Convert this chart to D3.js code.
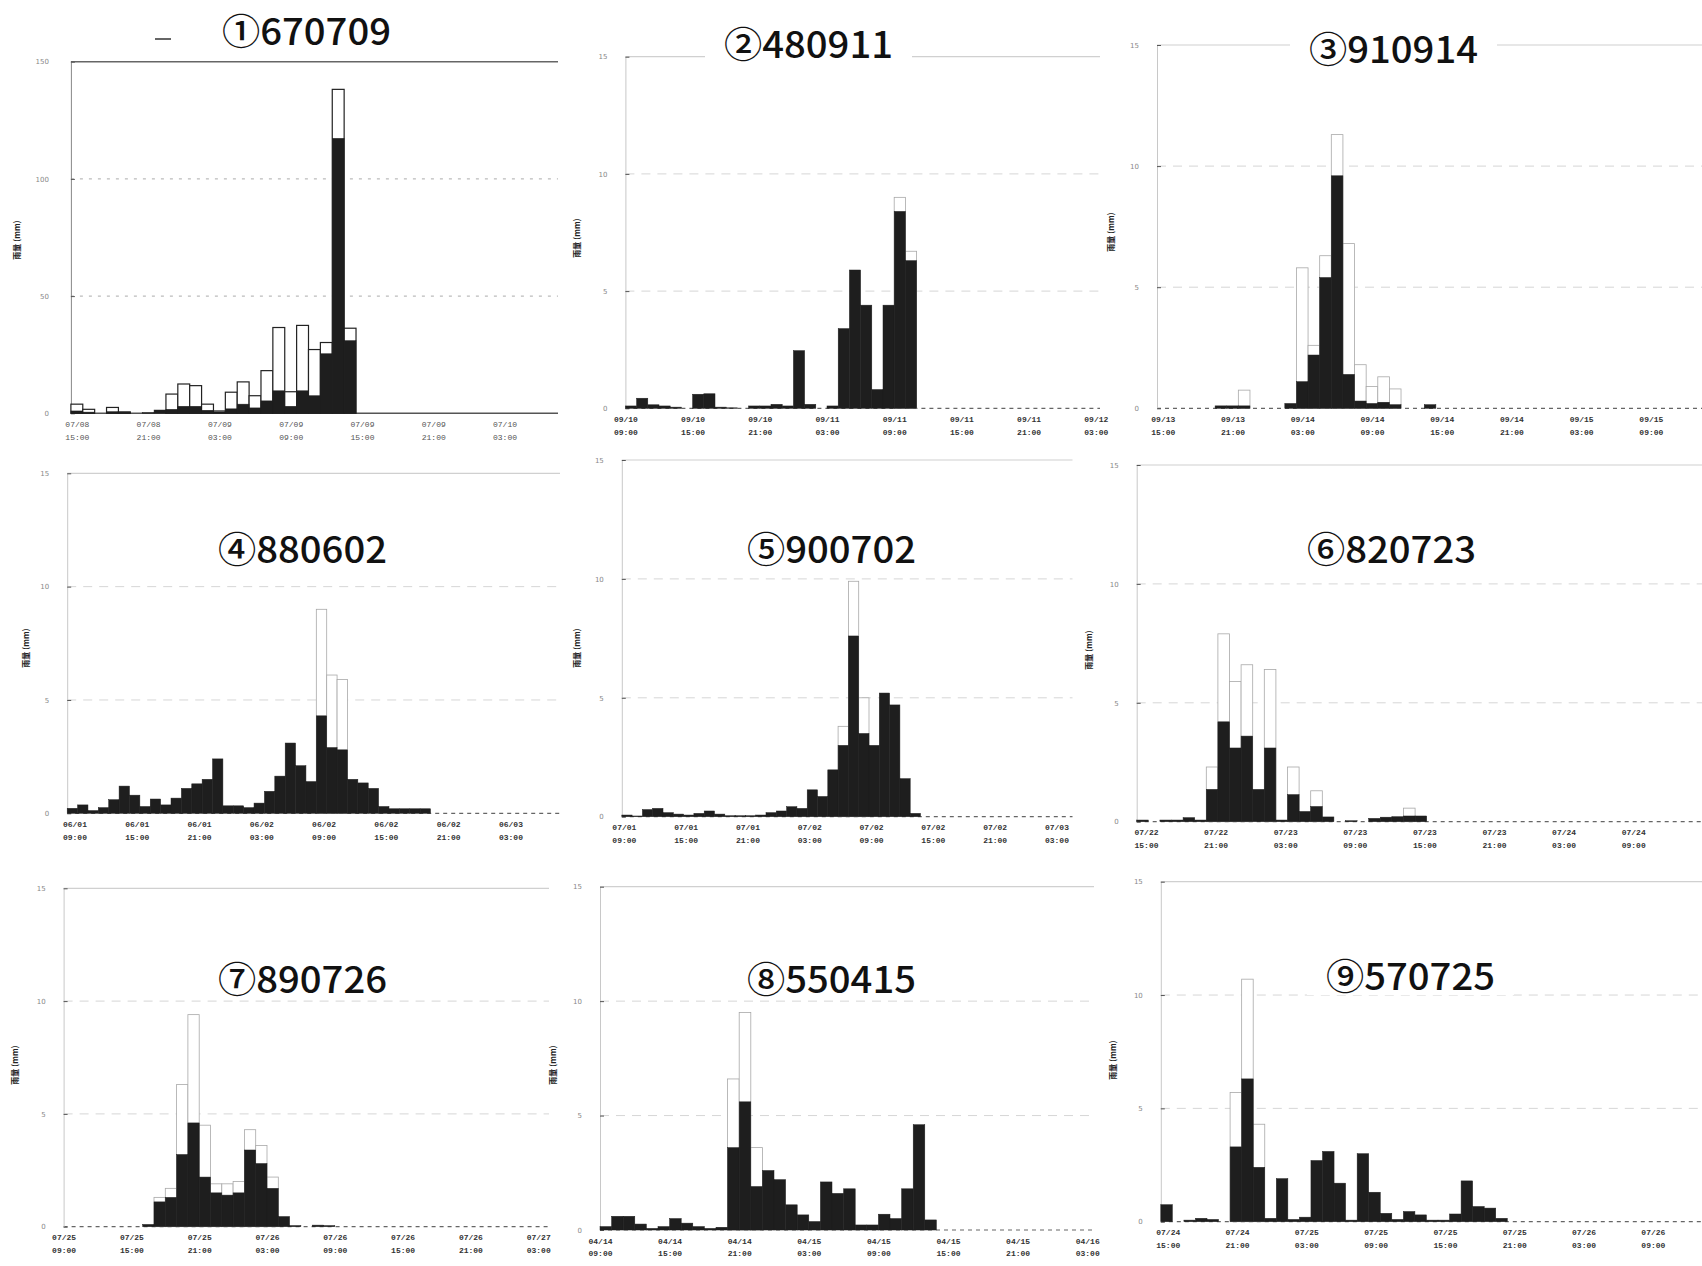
<!DOCTYPE html>
<html>
<head>
<meta charset="utf-8">
<script src="https://cdn.jsdelivr.net/npm/d3@7"></script>
<style>
  body { margin: 0; background: #fff; }
  svg { display: block; }
</style>
</head>
<body>
<svg id="chart" width="1702" height="1266"></svg>
<script>

// ---- data (hourly rainfall, black = lower part, total = top of white box) ----
const titles = ["①670709", "②480911", "③910914", "④880602", "⑤900702", "⑥820723", "⑦890726", "⑧550415", "⑨570725"];
const yTicksBig = [0, 50, 100, 150];
const yTicksSmall = [0, 5, 10, 15];

const p1Black = [1, 0.5, 0, 0.7, 0.5, 0, 0.3, 1.4, 1.7, 3, 3, 1.3, 0.6, 1.9, 3.9, 2.3, 5.3, 9.6, 3, 9.6, 7.5, 25.4, 117.3, 31];
const p1Total = [3.9, 1.7, 0, 2.5, 0.6, 0, 0.3, 1.4, 8.2, 12.5, 11.8, 3.9, 1, 9, 13.4, 7.5, 18.2, 36.6, 9.2, 37.5, 27.2, 30.2, 138.2, 36.3];

const p2Black = [0.1, 0.43, 0.15, 0.1, 0.05, 0, 0.6, 0.62, 0.05, 0.02, 0, 0.1, 0.1, 0.17, 0.1, 2.46, 0.17, 0, 0.1, 3.4, 5.9, 4.4, 0.8, 4.4, 8.4, 6.3];
const p2Total = [0.1, 0.43, 0.15, 0.1, 0.05, 0, 0.6, 0.62, 0.05, 0.02, 0, 0.1, 0.1, 0.17, 0.1, 2.46, 0.17, 0, 0.1, 3.4, 5.9, 4.4, 0.8, 4.4, 9.0, 6.7];

const p3Black = [0, 0, 0, 0, 0, 0.1, 0.1, 0.1, 0, 0, 0, 0.2, 1.1, 2.2, 5.4, 9.6, 1.4, 0.3, 0.2, 0.25, 0.15, 0, 0, 0.15];
const p3Total = [0, 0, 0, 0, 0, 0.1, 0.1, 0.75, 0, 0, 0, 0.2, 5.8, 2.6, 6.3, 11.3, 6.8, 1.8, 0.9, 1.3, 0.8, 0, 0, 0.15];

const p4Black = [0.22, 0.37, 0.12, 0.25, 0.6, 1.2, 0.8, 0.3, 0.63, 0.37, 0.67, 1.1, 1.3, 1.5, 2.4, 0.33, 0.33, 0.25, 0.45, 0.97, 1.64, 3.1, 2.1, 1.4, 4.3, 2.9, 2.8, 1.5, 1.34, 1.1, 0.3, 0.2, 0.2, 0.2, 0.2];
const p4Total = [0.22, 0.37, 0.12, 0.25, 0.6, 1.2, 0.8, 0.3, 0.63, 0.37, 0.67, 1.1, 1.3, 1.5, 2.4, 0.33, 0.33, 0.25, 0.45, 0.97, 1.64, 3.1, 2.1, 1.4, 9.0, 6.1, 5.9, 1.5, 1.34, 1.1, 0.3, 0.2, 0.2, 0.2, 0.2];

const p5Black = [0.07, 0.03, 0.3, 0.35, 0.17, 0.11, 0.07, 0.14, 0.24, 0.11, 0.04, 0.04, 0.04, 0.07, 0.17, 0.24, 0.42, 0.35, 1.13, 0.85, 1.97, 3.0, 7.6, 3.5, 3.0, 5.2, 4.7, 1.6, 0.14];
const p5Total = [0.07, 0.03, 0.3, 0.35, 0.17, 0.11, 0.07, 0.14, 0.24, 0.11, 0.04, 0.04, 0.04, 0.07, 0.17, 0.24, 0.42, 0.35, 1.13, 0.85, 1.97, 3.8, 9.9, 5.0, 3.0, 5.2, 4.7, 1.6, 0.14];

const p6Black = [0.07, 0, 0.07, 0.07, 0.17, 0.07, 1.36, 4.2, 3.1, 3.6, 1.36, 3.1, 0.07, 1.14, 0.43, 0.64, 0.2, 0, 0.04, 0, 0.14, 0.19, 0.21, 0.24, 0.24];
const p6Total = [0.07, 0, 0.07, 0.07, 0.17, 0.07, 2.3, 7.9, 5.9, 6.6, 1.36, 6.4, 0.07, 2.3, 0.43, 1.3, 0.2, 0, 0.04, 0, 0.14, 0.19, 0.21, 0.57, 0.24];

const p7Black = [0, 0, 0, 0, 0, 0, 0, 0.1, 1.1, 1.3, 3.2, 4.6, 2.2, 1.5, 1.4, 1.5, 3.4, 2.8, 1.7, 0.45, 0.05, 0, 0.07, 0.05];
const p7Total = [0, 0, 0, 0, 0, 0, 0, 0.1, 1.3, 1.7, 6.3, 9.4, 4.5, 1.9, 1.9, 2.0, 4.3, 3.6, 2.2, 0.45, 0.05, 0, 0.07, 0.05];

const p8Black = [0.15, 0.6, 0.6, 0.26, 0.07, 0.15, 0.5, 0.3, 0.15, 0.07, 0.12, 3.6, 5.6, 1.9, 2.6, 2.2, 1.1, 0.66, 0.37, 2.1, 1.6, 1.8, 0.22, 0.22, 0.69, 0.5, 1.8, 4.6, 0.44];
const p8Total = [0.15, 0.6, 0.6, 0.26, 0.07, 0.15, 0.5, 0.3, 0.15, 0.07, 0.12, 6.6, 9.5, 3.6, 2.6, 2.2, 1.1, 0.66, 0.37, 2.1, 1.6, 1.8, 0.22, 0.22, 0.69, 0.5, 1.8, 4.6, 0.44];

const p9Black = [0.75, 0, 0.07, 0.15, 0.1, 0, 3.3, 6.3, 2.4, 0.15, 1.9, 0.1, 0.2, 2.7, 3.1, 1.7, 0.07, 3.0, 1.3, 0.37, 0.1, 0.45, 0.3, 0.07, 0.07, 0.34, 1.8, 0.67, 0.6, 0.15];
const p9Total = [0.75, 0, 0.07, 0.15, 0.1, 0, 5.7, 10.7, 4.3, 0.15, 1.9, 0.1, 0.2, 2.7, 3.1, 1.7, 0.07, 3.0, 1.3, 0.37, 0.1, 0.45, 0.3, 0.07, 0.07, 0.34, 1.8, 0.67, 0.6, 0.15];

// x tick labels (date / time)
const p1Times = [["07/08", "15:00"], ["07/08", "21:00"], ["07/09", "03:00"], ["07/09", "09:00"], ["07/09", "15:00"], ["07/09", "21:00"], ["07/10", "03:00"]];
const p2Times = [["09/10", "09:00"], ["09/10", "15:00"], ["09/10", "21:00"], ["09/11", "03:00"], ["09/11", "09:00"], ["09/11", "15:00"], ["09/11", "21:00"], ["09/12", "03:00"]];
const p3Times = [["09/13", "15:00"], ["09/13", "21:00"], ["09/14", "03:00"], ["09/14", "09:00"], ["09/14", "15:00"], ["09/14", "21:00"], ["09/15", "03:00"], ["09/15", "09:00"]];
const p4Times = [["06/01", "09:00"], ["06/01", "15:00"], ["06/01", "21:00"], ["06/02", "03:00"], ["06/02", "09:00"], ["06/02", "15:00"], ["06/02", "21:00"], ["06/03", "03:00"]];
const p5Times = [["07/01", "09:00"], ["07/01", "15:00"], ["07/01", "21:00"], ["07/02", "03:00"], ["07/02", "09:00"], ["07/02", "15:00"], ["07/02", "21:00"], ["07/03", "03:00"]];
const p6Times = [["07/22", "15:00"], ["07/22", "21:00"], ["07/23", "03:00"], ["07/23", "09:00"], ["07/23", "15:00"], ["07/23", "21:00"], ["07/24", "03:00"], ["07/24", "09:00"]];
const p7Times = [["07/25", "09:00"], ["07/25", "15:00"], ["07/25", "21:00"], ["07/26", "03:00"], ["07/26", "09:00"], ["07/26", "15:00"], ["07/26", "21:00"], ["07/27", "03:00"]];
const p8Times = [["04/14", "09:00"], ["04/14", "15:00"], ["04/14", "21:00"], ["04/15", "03:00"], ["04/15", "09:00"], ["04/15", "15:00"], ["04/15", "21:00"], ["04/16", "03:00"]];
const p9Times = [["07/24", "15:00"], ["07/24", "21:00"], ["07/25", "03:00"], ["07/25", "09:00"], ["07/25", "15:00"], ["07/25", "21:00"], ["07/26", "03:00"], ["07/26", "09:00"]];

// ---- layout of the nine small panels (pixel positions) ----
const layout = [
  { x0: 70.9, x1: 558, yTop: 61.7, yBase: 413.3, binW: 11.88, tickStart: 0.5, tx: 222, ty: 45, lx: 20, ly: 240 },
  { x0: 625.4, x1: 1100, yTop: 56.7, yBase: 408.3, binW: 11.2, tickStart: 0, tx: 724, ty: 58, lx: 580, ly: 238 },
  { x0: 1157, x1: 1702, yTop: 45, yBase: 408.3, binW: 11.62, tickStart: 0.5, tx: 1309, ty: 63, lx: 1114, ly: 232 },
  { x0: 67.2, x1: 560, yTop: 473.3, yBase: 813.3, binW: 10.38, tickStart: 0.7, tx: 218, ty: 563, lx: 29, ly: 648 },
  { x0: 621.8, x1: 1072.5, yTop: 460, yBase: 816.7, binW: 10.3, tickStart: 0.2, tx: 747, ty: 563, lx: 580, ly: 648 },
  { x0: 1136.7, x1: 1702, yTop: 465, yBase: 821.7, binW: 11.6, tickStart: 0.8, tx: 1307, ty: 563, lx: 1092, ly: 650 },
  { x0: 63.6, x1: 549, yTop: 888.3, yBase: 1226.7, binW: 11.3, tickStart: 0, tx: 218, ty: 993, lx: 18, ly: 1065 },
  { x0: 600, x1: 1094, yTop: 886.7, yBase: 1230, binW: 11.6, tickStart: 0, tx: 747, ty: 993, lx: 556, ly: 1065 },
  { x0: 1160.8, x1: 1702, yTop: 881.7, yBase: 1221.7, binW: 11.55, tickStart: 0.6, tx: 1326, ty: 990, lx: 1116, ly: 1060 }
];

const blacks = [p1Black, p2Black, p3Black, p4Black, p5Black, p6Black, p7Black, p8Black, p9Black];
const totals = [p1Total, p2Total, p3Total, p4Total, p5Total, p6Total, p7Total, p8Total, p9Total];
const times = [p1Times, p2Times, p3Times, p4Times, p5Times, p6Times, p7Times, p8Times, p9Times];

const svg = d3.select('#chart');
svg.append('rect').attr('width', 1702).attr('height', 1266).attr('fill', '#fff');

layout.forEach(function(p, i) {
    drawPanel(p, i);
});

function drawPanel(p, i) {
    const first = i === 0;
    const yTicks = first ? yTicksBig : yTicksSmall;
    const black = blacks[i], total = totals[i], labels = times[i];
    const g = svg.append('g').attr('class', 'panel');

    const nBins = (p.x1 - p.x0) / p.binW;
    const x = d3.scaleLinear().domain([0, nBins]).range([p.x0, p.x1]);
    const yMax = d3.max(yTicks);
    const y = d3.scaleLinear().domain([0, yMax]).range([p.yBase, p.yTop]);
    const bw = x(1) - x(0);

    // dotted grid lines
    g.selectAll('.grid')
        .data(yTicks.filter(t => t > 0 && t < yMax))
        .join('line')
        .attr('class', 'grid')
        .attr('x1', p.x0).attr('x2', p.x1)
        .attr('y1', d => y(d)).attr('y2', d => y(d))
        .attr('stroke', first ? '#aaa' : '#d6d6d6')
        .attr('stroke-width', 1)
        .attr('stroke-dasharray', first ? '3,6' : '9,7');

    // top frame line
    g.append('line')
        .attr('x1', p.x0).attr('x2', p.x1)
        .attr('y1', y(yMax)).attr('y2', y(yMax))
        .attr('stroke', first ? '#666' : '#d0d0d0')
        .attr('stroke-width', first ? 1.6 : 1.2);

    // baseline
    g.append('line')
        .attr('x1', p.x0).attr('x2', p.x1)
        .attr('y1', y(0)).attr('y2', y(0))
        .attr('stroke', first ? '#555' : '#666')
        .attr('stroke-width', first ? 1.5 : 1.2)
        .attr('stroke-dasharray', first ? null : '4,4');

    // y axis
    const yAxis = d3.axisLeft(y)
        .tickValues(yTicks)
        .tickSizeInner(-4)
        .tickSizeOuter(0)
        .tickPadding(first ? 22 : 18);
    const gy = g.append('g')
        .attr('transform', `translate(${p.x0},0)`)
        .call(yAxis);
    gy.select('.domain').attr('stroke', first ? '#888' : '#c8c8c8');
    gy.selectAll('.tick line').attr('stroke', '#555');
    gy.selectAll('.tick text')
        .attr('font-family', 'DejaVu Sans')
        .attr('font-size', 7)
        .attr('fill', '#888');

    // bars: white box (total) behind, black part in front
    const rows = black.map((b, j) => ({ j: j, b: b, t: total[j] }));
    g.selectAll('.upper')
        .data(rows.filter(d => d.t > d.b))
        .join('rect')
        .attr('class', 'upper')
        .attr('x', d => x(d.j))
        .attr('width', bw)
        .attr('y', d => y(d.t))
        .attr('height', d => y(0) - y(d.t))
        .attr('fill', '#fff')
        .attr('stroke', first ? '#222' : '#a8a8a8')
        .attr('stroke-width', first ? 1.2 : 0.8);

    g.selectAll('.lower')
        .data(rows.filter(d => d.b > 0))
        .join('rect')
        .attr('class', 'lower')
        .attr('x', d => x(d.j))
        .attr('width', bw)
        .attr('y', d => y(d.b))
        .attr('height', d => y(0) - y(d.b))
        .attr('fill', '#1e1e1e')
        .attr('stroke', '#1e1e1e')
        .attr('stroke-width', 0.5);

    // x axis with two-line date / time labels
    const xAxis = d3.axisBottom(x)
        .tickValues(labels.map((d, k) => p.tickStart + k * 6))
        .tickSize(0)
        .tickPadding(8)
        .tickFormat('');
    const gx = g.append('g')
        .attr('transform', `translate(0,${p.yBase})`)
        .call(xAxis);
    gx.select('.domain').remove();
    gx.selectAll('.tick text')
        .attr('font-family', 'Liberation Mono')
        .attr('font-size', 8)
        .attr('font-weight', first ? 'normal' : 'bold')
        .attr('fill', first ? '#555' : '#333')
        .each(function(d, k) {
            const t = d3.select(this);
            t.append('tspan').attr('x', 0).text(labels[k][0]);
            t.append('tspan').attr('x', 0).attr('dy', '1.6em').text(labels[k][1]);
        });

    // y axis title
    g.append('text')
        .attr('transform', `translate(${p.lx},${p.ly}) rotate(-90)`)
        .attr('text-anchor', 'middle')
        .attr('font-family', 'Noto Sans CJK JP')
        .attr('font-weight', 'bold')
        .attr('font-size', 8)
        .attr('fill', '#222')
        .text('雨量 (mm)');

    // panel title with a white patch behind it
    const tw = 169;
    g.append('rect')
        .attr('x', p.tx - 19)
        .attr('y', p.ty - 32)
        .attr('width', tw + 38)
        .attr('height', 37)
        .attr('fill', '#fff');
    g.append('text')
        .attr('x', p.tx)
        .attr('y', p.ty)
        .attr('font-family', 'Noto Sans CJK JP')
        .attr('font-weight', 500)
        .attr('font-size', 36)
        .attr('fill', '#111')
        .attr('textLength', tw)
        .attr('lengthAdjust', 'spacingAndGlyphs')
        .text(titles[i]);
}

// small stray dash left of the first title
svg.append('line')
    .attr('x1', 155).attr('x2', 171)
    .attr('y1', 39).attr('y2', 39)
    .attr('stroke', '#333')
    .attr('stroke-width', 1.5);

</script>
</body>
</html>
